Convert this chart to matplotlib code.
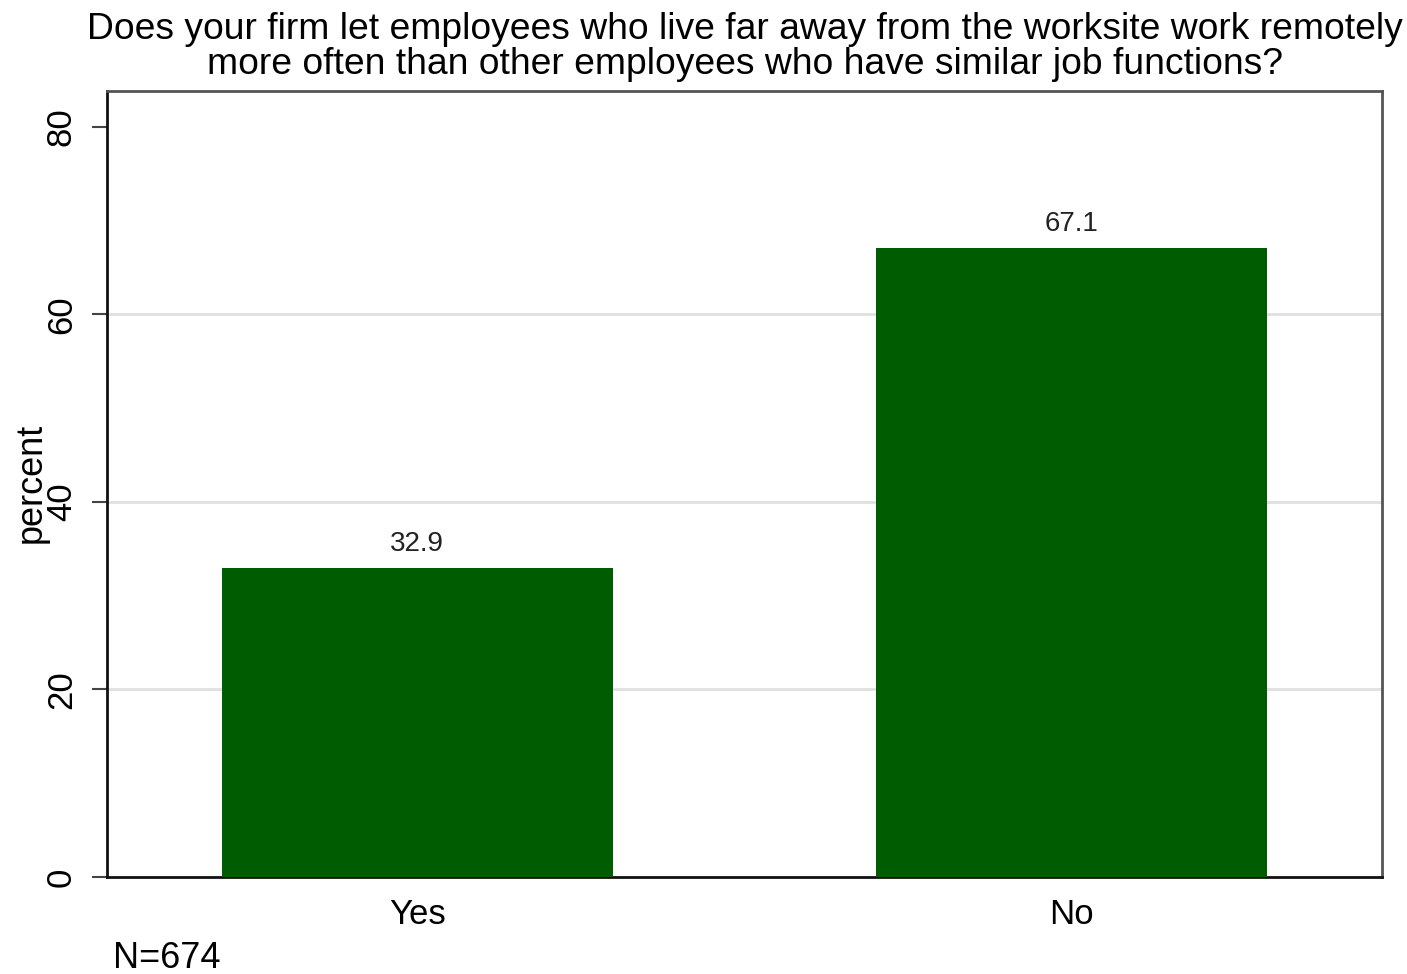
import matplotlib
matplotlib.use("Agg")
import matplotlib.pyplot as plt

categories = ["Yes", "No"]
values = [32.9, 67.1]
yticks = [0, 20, 40, 60, 80]
title = ("Does your firm let employees who live far away from the worksite work remotely\n"
         "more often than other employees who have similar job functions?")
note = "N=674"

plt.rcParams['font.family'] = ['Liberation Sans', 'DejaVu Sans']

fig = plt.figure(figsize=(14.07, 9.74), dpi=100)
ax = fig.add_axes([107/1407, 1-877/974, (1382-107)/1407, (877-91)/974])

x = list(range(len(categories)))
ax.bar(x, values, width=0.597, color="#005c00", zorder=3)
for xi, v in zip(x, values):
    ax.annotate(f"{v:.1f}", (xi, v), xytext=(0, 8), textcoords="offset points",
                ha="center", va="bottom", fontsize=20, color="#222222")

ax.set_xlim(-0.474, 1.474)
ax.set_ylim(0, 83.8)
ax.set_xticks(x)
ax.set_xticklabels(categories, fontsize=25)
ax.set_yticks(yticks)
ax.set_yticklabels([str(t) for t in yticks], fontsize=25, rotation=90, va="center")
ax.tick_params(axis="y", length=11, width=1.5, color="#444444", pad=10)
ax.tick_params(axis="x", length=0, pad=15)

ax.yaxis.grid(True, color="#e0e0e0", linewidth=2, zorder=0)
ax.set_axisbelow(True)
for gl, t in zip(ax.get_ygridlines(), yticks):
    if t in (0, 80):
        gl.set_visible(False)

for side in ["left", "bottom"]:
    ax.spines[side].set_linewidth(2)
    ax.spines[side].set_color("#111111")
for side in ["top", "right"]:
    ax.spines[side].set_linewidth(2)
    ax.spines[side].set_color("#555555")

fig.text(31/1407, 1-483/974, "percent", rotation=90, ha="center", va="center", fontsize=26)
fig.text(745/1407, 1-47/974, title, ha="center", va="center", fontsize=26.8, linespacing=1.0)
fig.text(113/1407, 1-958/974, note, ha="left", va="center", fontsize=26)

fig.savefig("out.png", dpi=100)
